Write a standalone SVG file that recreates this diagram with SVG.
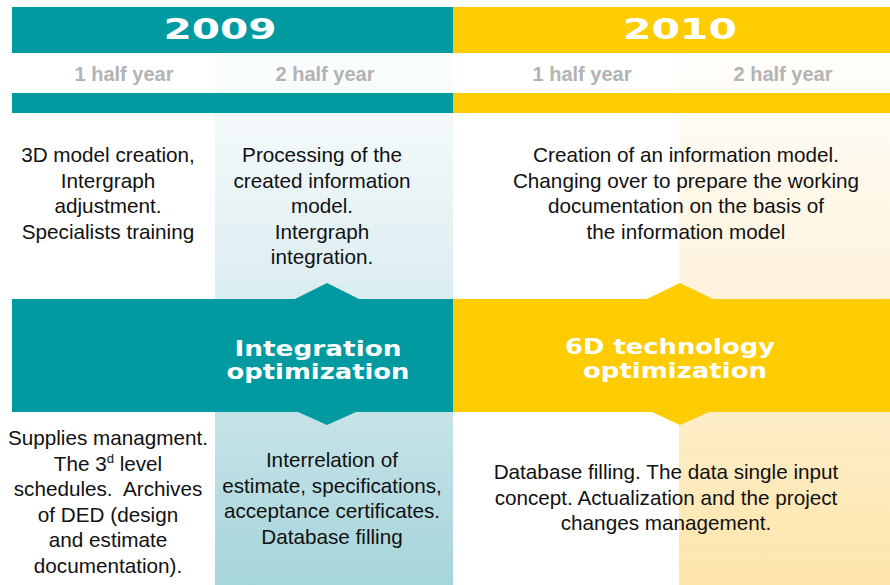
<svg xmlns="http://www.w3.org/2000/svg" width="890" height="585" viewBox="0 0 890 585">
<defs>
<linearGradient id="gTeal" x1="0" y1="0" x2="0" y2="1">
<stop offset="0" stop-color="#fcfefe"/>
<stop offset="0.45" stop-color="#dcedf0"/>
<stop offset="1" stop-color="#a6d5db"/>
</linearGradient>
<linearGradient id="gYel" x1="0" y1="0" x2="0" y2="1">
<stop offset="0" stop-color="#fffefb"/>
<stop offset="0.45" stop-color="#fef3dc"/>
<stop offset="1" stop-color="#fde5aa"/>
</linearGradient>
<style>
.teal{fill:#019aa1}
.yel{fill:#fecc00}
.year{font-family:'DejaVu Sans',sans-serif;font-weight:bold;font-size:28px;fill:#fff;text-anchor:middle}
.band{font-family:'DejaVu Sans',sans-serif;font-weight:bold;font-size:21px;fill:#fff;text-anchor:middle}
.half{font-family:'Liberation Sans',Arial,Helvetica,sans-serif;font-weight:bold;font-size:20px;fill:#b3b3b3;text-anchor:middle}
.body{font-family:'Liberation Sans',Arial,Helvetica,sans-serif;font-size:20.7px;fill:#111;text-anchor:middle}
</style>
</defs>
<rect width="890" height="585" fill="#fff"/>
<g id="columns">
<rect x="215" y="53" width="238" height="532" fill="url(#gTeal)"/>
<rect x="679" y="53" width="211" height="532" fill="url(#gYel)"/>
</g>
<g id="header-2009">
<rect class="teal" x="12" y="7" width="441" height="46"/>
<text class="year" x="220" y="39" textLength="113" lengthAdjust="spacingAndGlyphs">2009</text>
<rect class="teal" x="12" y="93" width="441" height="20"/>
</g>
<g id="header-2010">
<rect class="yel" x="453" y="7" width="437" height="46"/>
<text class="year" x="680" y="39" textLength="114" lengthAdjust="spacingAndGlyphs">2010</text>
<rect class="yel" x="453" y="93" width="437" height="20"/>
</g>
<g id="half-years">
<text class="half" x="124" y="81">1 half year</text>
<text class="half" x="325" y="81">2 half year</text>
<text class="half" x="582" y="81">1 half year</text>
<text class="half" x="783" y="81">2 half year</text>
</g>
<g id="band-2009">
<path class="teal" d="M12 299 H295 L327 283 L359 299 H453 V412 H356 L327 425 L298 412 H12 Z"/>
<text class="band" x="318" y="356" textLength="167" lengthAdjust="spacingAndGlyphs">Integration</text>
<text class="band" x="318" y="379" textLength="183" lengthAdjust="spacingAndGlyphs">optimization</text>
</g>
<g id="band-2010">
<path class="yel" d="M453 299 H647 L680 283 L713 299 H890 V412 H709 L680 425 L652 412 H453 Z"/>
<text class="band" x="670" y="354" textLength="210" lengthAdjust="spacingAndGlyphs">6D technology</text>
<text class="band" x="675" y="378" textLength="184" lengthAdjust="spacingAndGlyphs">optimization</text>
</g>
<g id="cell-2009-h1-top">
<text class="body" x="108" y="162">3D model creation,</text>
<text class="body" x="108" y="187.5">Intergraph</text>
<text class="body" x="108" y="213">adjustment.</text>
<text class="body" x="108" y="238.5">Specialists training</text>
</g>
<g id="cell-2009-h2-top">
<text class="body" x="322" y="162">Processing of the</text>
<text class="body" x="322" y="187.5">created information</text>
<text class="body" x="322" y="213">model.</text>
<text class="body" x="322" y="238.5">Intergraph</text>
<text class="body" x="322" y="264">integration.</text>
</g>
<g id="cell-2010-top">
<text class="body" x="686" y="162">Creation of an information model.</text>
<text class="body" x="686" y="187.5">Changing over to prepare the working</text>
<text class="body" x="686" y="213">documentation on the basis of</text>
<text class="body" x="686" y="238.5">the information model</text>
</g>
<g id="cell-2009-h1-bottom">
<text class="body" x="108" y="445">Supplies managment.</text>
<text class="body" x="108" y="470.5">The 3<tspan font-size="13" dy="-8">d</tspan><tspan dy="8"> level</tspan></text>
<text class="body" x="108" y="496">schedules.&#160; Archives</text>
<text class="body" x="108" y="521.5">of DED (design</text>
<text class="body" x="108" y="547">and estimate</text>
<text class="body" x="108" y="572.5">documentation).</text>
</g>
<g id="cell-2009-h2-bottom">
<text class="body" x="332" y="467">Interrelation of</text>
<text class="body" x="332" y="492.5">estimate, specifications,</text>
<text class="body" x="332" y="518">acceptance certificates.</text>
<text class="body" x="332" y="543.5">Database filling</text>
</g>
<g id="cell-2010-bottom">
<text class="body" x="666" y="479">Database filling. The data single input</text>
<text class="body" x="666" y="504.5">concept. Actualization and the project</text>
<text class="body" x="666" y="530">changes management.</text>
</g>
<g id="connectors"/>
</svg>
